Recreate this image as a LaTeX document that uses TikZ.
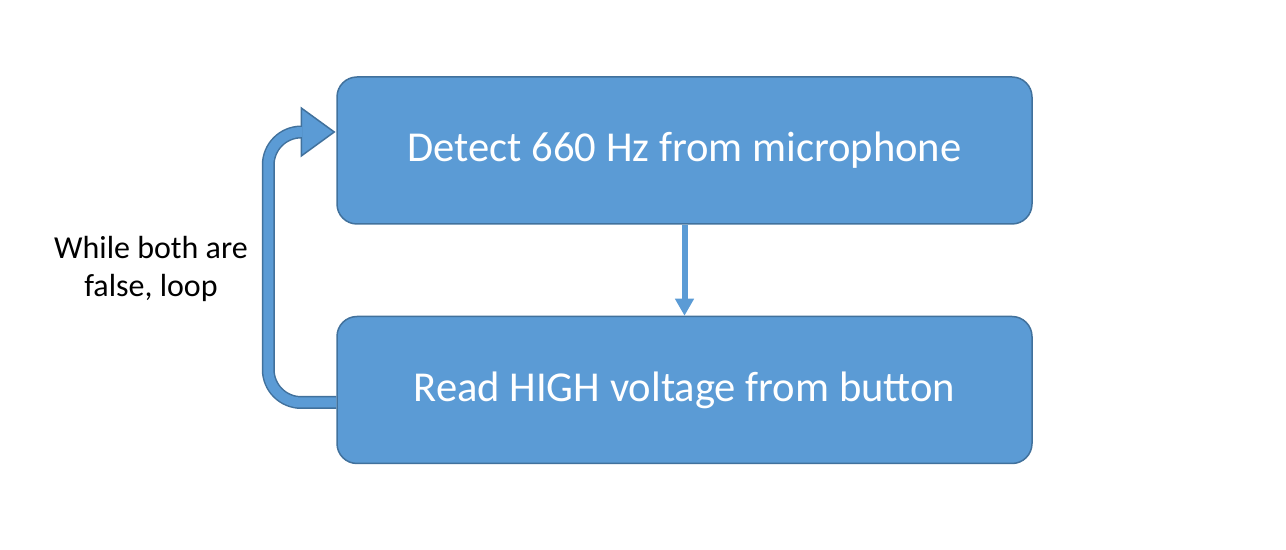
\documentclass[tikz,border=0pt]{standalone}
\usepackage{fontspec}
\setmainfont{Carlito}
\usetikzlibrary{arrows.meta,positioning,calc}
\definecolor{stepfill}{RGB}{91,155,213}
\definecolor{stepedge}{RGB}{65,113,156}
\tikzset{
  stepbox/.style={
    draw=stepedge, fill=stepfill, line width=0.75pt, rounded corners=10pt,
    minimum width=347.5pt, minimum height=73.5pt, inner sep=0pt,
    text=white, font=\fontsize{21.3}{25}\selectfont
  },
  arr/.style={-{Triangle[length=8.5pt,width=9pt]}, draw=stepfill, line width=3pt},
  looparr/.style={
    draw=stepedge, line width=0.75pt, double=stepfill, double distance=5pt,
    rounded corners=16.5pt
  },
  loophead/.style={fill=stepfill, draw=stepedge, line width=0.75pt, line join=miter},
  anno/.style={font=\fontsize{16}{19}\selectfont, align=center}
}

\begin{document}
\begin{tikzpicture}[x=0.5pt,y=-0.5pt,node distance=45.5pt]
  \useasboundingbox (0,0) rectangle (1286,550);
  \node[stepbox] (detect) at (684.5,150.5) {Detect 660 Hz from microphone};
  \node[stepbox, below=of detect] (read) {Read HIGH voltage from button};
  \draw[arr] (detect) -- (read);
  % loop back while both checks fail
  \coordinate (loopstart) at ($(read.west)+(0,12.5)$);
  \coordinate (loopend) at ($(detect.west)+(-35,-18.5)$);
  \draw[looparr] (loopstart) -- ++(-68,0) |- (loopend);
  \draw[loophead] ($(loopend)+(0,-24)$) -- ($(loopend)+(33,0)$) -- ($(loopend)+(0,24)$) -- cycle;
  \fill[stepfill] ($(loopend)+(-1,-4.8)$) rectangle ($(loopend)+(1.2,4.8)$);
  \node[anno] (looplabel) at (151,269) {While both are\\false, loop};
\end{tikzpicture}
\end{document}
